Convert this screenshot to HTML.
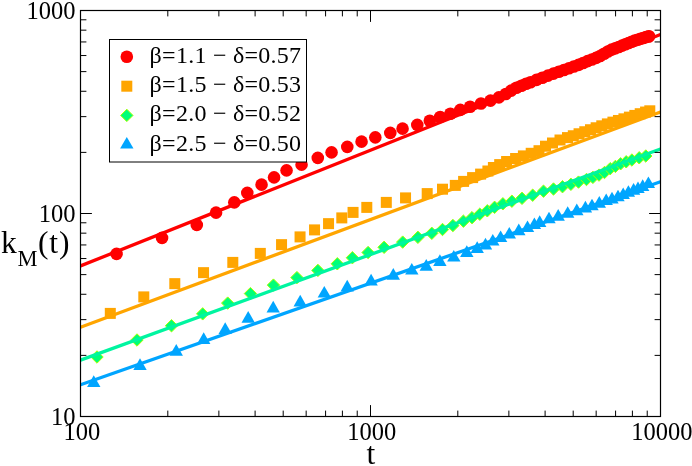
<!DOCTYPE html>
<html><head><meta charset="utf-8"><title>k_M(t)</title>
<style>html,body{margin:0;padding:0;background:#fff}svg{display:block;will-change:transform}text{font-family:"Liberation Serif",serif;fill:#000}</style></head>
<body>
<svg width="692" height="466" viewBox="0 0 692 466">
<rect width="692" height="466" fill="#fff"/>
<clipPath id="c"><rect x="80.5" y="10.5" width="580.0" height="406.0"/></clipPath>
<g clip-path="url(#c)">
<g fill="#ff0000"><circle cx="116.55" cy="253.90" r="6.3"/><circle cx="162.05" cy="237.90" r="6.3"/><circle cx="196.80" cy="224.90" r="6.3"/><circle cx="216.05" cy="212.65" r="6.3"/><circle cx="234.30" cy="202.40" r="6.3"/><circle cx="247.30" cy="192.90" r="6.3"/><circle cx="261.55" cy="184.65" r="6.3"/><circle cx="274.05" cy="177.40" r="6.3"/><circle cx="286.55" cy="170.40" r="6.3"/><circle cx="301.55" cy="164.65" r="6.3"/><circle cx="317.80" cy="157.90" r="6.3"/><circle cx="331.55" cy="152.40" r="6.3"/><circle cx="347.30" cy="146.90" r="6.3"/><circle cx="361.55" cy="141.65" r="6.3"/><circle cx="375.30" cy="137.40" r="6.3"/><circle cx="390.30" cy="132.90" r="6.3"/><circle cx="402.55" cy="128.65" r="6.3"/><circle cx="417.30" cy="124.90" r="6.3"/><circle cx="429.80" cy="120.70" r="6.3"/><circle cx="440.20" cy="117.00" r="6.3"/><circle cx="450.40" cy="113.80" r="6.3"/><circle cx="460.30" cy="109.90" r="6.3"/><circle cx="470.10" cy="106.70" r="6.3"/><circle cx="481.00" cy="103.50" r="6.3"/><circle cx="490.50" cy="100.60" r="6.3"/><circle cx="498.90" cy="97.40" r="6.3"/><circle cx="505.80" cy="94.00" r="6.3"/><circle cx="511.20" cy="90.60" r="6.3"/><circle cx="516.40" cy="87.80" r="6.3"/><circle cx="521.40" cy="85.70" r="6.3"/><circle cx="526.10" cy="83.80" r="6.3"/><circle cx="530.50" cy="82.20" r="6.3"/><circle cx="536.50" cy="79.87" r="6.3"/><circle cx="542.32" cy="77.71" r="6.3"/><circle cx="547.97" cy="75.63" r="6.3"/><circle cx="553.46" cy="73.64" r="6.3"/><circle cx="558.78" cy="71.74" r="6.3"/><circle cx="563.94" cy="70.00" r="6.3"/><circle cx="568.96" cy="68.32" r="6.3"/><circle cx="573.82" cy="66.56" r="6.3"/><circle cx="578.54" cy="64.83" r="6.3"/><circle cx="583.12" cy="62.98" r="6.3"/><circle cx="587.57" cy="61.12" r="6.3"/><circle cx="591.88" cy="59.45" r="6.3"/><circle cx="596.07" cy="57.83" r="6.3"/><circle cx="600.13" cy="55.93" r="6.3"/><circle cx="604.08" cy="53.75" r="6.3"/><circle cx="607.90" cy="51.44" r="6.3"/><circle cx="611.62" cy="49.64" r="6.3"/><circle cx="615.22" cy="48.34" r="6.3"/><circle cx="618.72" cy="46.96" r="6.3"/><circle cx="622.11" cy="45.61" r="6.3"/><circle cx="625.41" cy="44.28" r="6.3"/><circle cx="628.60" cy="42.98" r="6.3"/><circle cx="631.71" cy="41.72" r="6.3"/><circle cx="634.72" cy="40.65" r="6.3"/><circle cx="637.64" cy="39.72" r="6.3"/><circle cx="640.47" cy="38.82" r="6.3"/><circle cx="643.23" cy="37.94" r="6.3"/><circle cx="645.90" cy="37.15" r="6.3"/><circle cx="648.49" cy="36.44" r="6.3"/><circle cx="649.00" cy="36.30" r="6.3"/></g>
<g fill="#ffa500"><rect x="104.80" y="307.90" width="11" height="11"/><rect x="138.30" y="291.40" width="11" height="11"/><rect x="169.30" y="278.15" width="11" height="11"/><rect x="198.05" y="267.15" width="11" height="11"/><rect x="227.30" y="256.90" width="11" height="11"/><rect x="254.80" y="247.90" width="11" height="11"/><rect x="276.05" y="239.15" width="11" height="11"/><rect x="294.55" y="231.40" width="11" height="11"/><rect x="309.05" y="224.40" width="11" height="11"/><rect x="323.05" y="218.15" width="11" height="11"/><rect x="336.30" y="212.40" width="11" height="11"/><rect x="347.55" y="206.90" width="11" height="11"/><rect x="361.30" y="201.90" width="11" height="11"/><rect x="380.80" y="196.90" width="11" height="11"/><rect x="400.05" y="192.40" width="11" height="11"/><rect x="421.70" y="188.10" width="11" height="11"/><rect x="437.00" y="183.70" width="11" height="11"/><rect x="449.80" y="179.90" width="11" height="11"/><rect x="458.10" y="175.90" width="11" height="11"/><rect x="467.10" y="172.10" width="11" height="11"/><rect x="475.10" y="168.60" width="11" height="11"/><rect x="482.40" y="165.50" width="11" height="11"/><rect x="487.90" y="162.00" width="11" height="11"/><rect x="494.20" y="159.10" width="11" height="11"/><rect x="501.10" y="156.00" width="11" height="11"/><rect x="510.10" y="153.00" width="11" height="11"/><rect x="517.90" y="150.40" width="11" height="11"/><rect x="525.70" y="147.80" width="11" height="11"/><rect x="533.50" y="145.20" width="11" height="11"/><rect x="540.00" y="140.70" width="11" height="11"/><rect x="547.00" y="137.50" width="11" height="11"/><rect x="554.50" y="134.50" width="11" height="11"/><rect x="562.00" y="132.10" width="11" height="11"/><rect x="567.80" y="130.25" width="11" height="11"/><rect x="573.56" y="128.26" width="11" height="11"/><rect x="579.29" y="126.24" width="11" height="11"/><rect x="584.99" y="124.23" width="11" height="11"/><rect x="590.65" y="122.27" width="11" height="11"/><rect x="596.28" y="120.33" width="11" height="11"/><rect x="601.87" y="118.40" width="11" height="11"/><rect x="607.43" y="116.64" width="11" height="11"/><rect x="612.95" y="114.98" width="11" height="11"/><rect x="618.44" y="113.33" width="11" height="11"/><rect x="623.90" y="111.64" width="11" height="11"/><rect x="629.32" y="109.92" width="11" height="11"/><rect x="634.71" y="108.20" width="11" height="11"/><rect x="640.07" y="106.54" width="11" height="11"/><rect x="644.30" y="105.30" width="11" height="11"/></g>
<g fill="#00ff78" stroke="#a8ff00" stroke-width="1"><path d="M97.00 350.80l6.2 6.2l-6.2 6.2l-6.2-6.2z"/><path d="M137.00 333.80l6.2 6.2l-6.2 6.2l-6.2-6.2z"/><path d="M171.50 319.55l6.2 6.2l-6.2 6.2l-6.2-6.2z"/><path d="M202.70 307.65l6.2 6.2l-6.2 6.2l-6.2-6.2z"/><path d="M227.70 296.90l6.2 6.2l-6.2 6.2l-6.2-6.2z"/><path d="M250.45 287.40l6.2 6.2l-6.2 6.2l-6.2-6.2z"/><path d="M273.45 278.90l6.2 6.2l-6.2 6.2l-6.2-6.2z"/><path d="M296.95 271.40l6.2 6.2l-6.2 6.2l-6.2-6.2z"/><path d="M317.90 264.20l6.2 6.2l-6.2 6.2l-6.2-6.2z"/><path d="M337.30 257.60l6.2 6.2l-6.2 6.2l-6.2-6.2z"/><path d="M352.40 251.50l6.2 6.2l-6.2 6.2l-6.2-6.2z"/><path d="M368.10 246.30l6.2 6.2l-6.2 6.2l-6.2-6.2z"/><path d="M384.10 241.10l6.2 6.2l-6.2 6.2l-6.2-6.2z"/><path d="M402.70 235.90l6.2 6.2l-6.2 6.2l-6.2-6.2z"/><path d="M417.90 231.10l6.2 6.2l-6.2 6.2l-6.2-6.2z"/><path d="M431.80 227.10l6.2 6.2l-6.2 6.2l-6.2-6.2z"/><path d="M442.50 223.30l6.2 6.2l-6.2 6.2l-6.2-6.2z"/><path d="M452.90 219.30l6.2 6.2l-6.2 6.2l-6.2-6.2z"/><path d="M463.40 215.00l6.2 6.2l-6.2 6.2l-6.2-6.2z"/><path d="M472.00 211.50l6.2 6.2l-6.2 6.2l-6.2-6.2z"/><path d="M479.80 208.00l6.2 6.2l-6.2 6.2l-6.2-6.2z"/><path d="M487.30 204.60l6.2 6.2l-6.2 6.2l-6.2-6.2z"/><path d="M494.60 201.10l6.2 6.2l-6.2 6.2l-6.2-6.2z"/><path d="M502.90 197.60l6.2 6.2l-6.2 6.2l-6.2-6.2z"/><path d="M511.90 195.00l6.2 6.2l-6.2 6.2l-6.2-6.2z"/><path d="M522.00 192.10l6.2 6.2l-6.2 6.2l-6.2-6.2z"/><path d="M532.70 189.00l6.2 6.2l-6.2 6.2l-6.2-6.2z"/><path d="M543.50 185.00l6.2 6.2l-6.2 6.2l-6.2-6.2z"/><path d="M553.50 182.80l6.2 6.2l-6.2 6.2l-6.2-6.2z"/><path d="M562.50 180.50l6.2 6.2l-6.2 6.2l-6.2-6.2z"/><path d="M570.90 178.10l6.2 6.2l-6.2 6.2l-6.2-6.2z"/><path d="M578.50 175.90l6.2 6.2l-6.2 6.2l-6.2-6.2z"/><path d="M586.50 173.30l6.2 6.2l-6.2 6.2l-6.2-6.2z"/><path d="M592.90 171.20l6.2 6.2l-6.2 6.2l-6.2-6.2z"/><path d="M599.00 168.90l6.2 6.2l-6.2 6.2l-6.2-6.2z"/><path d="M604.50 166.30l6.2 6.2l-6.2 6.2l-6.2-6.2z"/><path d="M610.20 162.50l6.2 6.2l-6.2 6.2l-6.2-6.2z"/><path d="M615.40 160.20l6.2 6.2l-6.2 6.2l-6.2-6.2z"/><path d="M620.60 157.60l6.2 6.2l-6.2 6.2l-6.2-6.2z"/><path d="M626.20 155.60l6.2 6.2l-6.2 6.2l-6.2-6.2z"/><path d="M631.90 153.80l6.2 6.2l-6.2 6.2l-6.2-6.2z"/><path d="M639.20 151.60l6.2 6.2l-6.2 6.2l-6.2-6.2z"/><path d="M645.80 149.80l6.2 6.2l-6.2 6.2l-6.2-6.2z"/></g>
<g fill="#00a5ff"><path d="M93.75 375.35l6.7 11.6h-13.4z"/><path d="M140.00 358.35l6.7 11.6h-13.4z"/><path d="M176.25 344.10l6.7 11.6h-13.4z"/><path d="M203.70 332.30l6.7 11.6h-13.4z"/><path d="M225.20 322.30l6.7 11.6h-13.4z"/><path d="M248.20 311.05l6.7 11.6h-13.4z"/><path d="M273.20 300.80l6.7 11.6h-13.4z"/><path d="M300.20 294.80l6.7 11.6h-13.4z"/><path d="M324.30 285.90l6.7 11.6h-13.4z"/><path d="M347.20 279.80l6.7 11.6h-13.4z"/><path d="M371.10 273.80l6.7 11.6h-13.4z"/><path d="M393.30 268.10l6.7 11.6h-13.4z"/><path d="M411.80 262.90l6.7 11.6h-13.4z"/><path d="M426.25 259.10l6.7 11.6h-13.4z"/><path d="M439.90 254.30l6.7 11.6h-13.4z"/><path d="M453.80 250.00l6.7 11.6h-13.4z"/><path d="M466.80 245.30l6.7 11.6h-13.4z"/><path d="M477.20 241.30l6.7 11.6h-13.4z"/><path d="M485.50 237.80l6.7 11.6h-13.4z"/><path d="M492.80 234.00l6.7 11.6h-13.4z"/><path d="M500.60 230.40l6.7 11.6h-13.4z"/><path d="M509.30 226.90l6.7 11.6h-13.4z"/><path d="M518.80 223.60l6.7 11.6h-13.4z"/><path d="M527.50 220.50l6.7 11.6h-13.4z"/><path d="M534.40 217.50l6.7 11.6h-13.4z"/><path d="M539.70 215.30l6.7 11.6h-13.4z"/><path d="M549.00 211.70l6.7 11.6h-13.4z"/><path d="M558.20 209.10l6.7 11.6h-13.4z"/><path d="M567.70 206.20l6.7 11.6h-13.4z"/><path d="M576.80 203.60l6.7 11.6h-13.4z"/><path d="M585.40 200.80l6.7 11.6h-13.4z"/><path d="M592.00 198.70l6.7 11.6h-13.4z"/><path d="M599.30 196.10l6.7 11.6h-13.4z"/><path d="M606.20 193.50l6.7 11.6h-13.4z"/><path d="M612.00 191.80l6.7 11.6h-13.4z"/><path d="M618.00 189.70l6.7 11.6h-13.4z"/><path d="M623.20 187.40l6.7 11.6h-13.4z"/><path d="M628.40 185.20l6.7 11.6h-13.4z"/><path d="M633.60 183.10l6.7 11.6h-13.4z"/><path d="M638.00 181.40l6.7 11.6h-13.4z"/><path d="M642.70 179.30l6.7 11.6h-13.4z"/><path d="M648.40 176.50l6.7 11.6h-13.4z"/></g>
<line x1="80.5" y1="265.9" x2="660.5" y2="34.48" stroke="#ff0000" stroke-width="3.3"/>
<line x1="80.5" y1="327.2" x2="660.5" y2="112.02" stroke="#ffa500" stroke-width="3.3"/>
<line x1="80.5" y1="360.1" x2="660.5" y2="148.98" stroke="#00f5a0" stroke-width="3.3"/>
<line x1="80.5" y1="384.7" x2="660.5" y2="181.70" stroke="#00a5ff" stroke-width="3.3"/>
</g>
<path d="M80.50 416.5v-11.4M80.50 10.5v11.4M167.80 416.5v-5.9M167.80 10.5v5.9M218.87 416.5v-5.9M218.87 10.5v5.9M255.10 416.5v-5.9M255.10 10.5v5.9M283.20 416.5v-5.9M283.20 10.5v5.9M306.16 416.5v-5.9M306.16 10.5v5.9M325.58 416.5v-5.9M325.58 10.5v5.9M342.40 416.5v-5.9M342.40 10.5v5.9M357.23 416.5v-5.9M357.23 10.5v5.9M370.50 416.5v-11.4M370.50 10.5v11.4M457.80 416.5v-5.9M457.80 10.5v5.9M508.87 416.5v-5.9M508.87 10.5v5.9M545.10 416.5v-5.9M545.10 10.5v5.9M573.20 416.5v-5.9M573.20 10.5v5.9M596.16 416.5v-5.9M596.16 10.5v5.9M615.58 416.5v-5.9M615.58 10.5v5.9M632.40 416.5v-5.9M632.40 10.5v5.9M647.23 416.5v-5.9M647.23 10.5v5.9M660.50 416.5v-11.4M660.50 10.5v11.4M80.5 416.50h11.4M660.5 416.50h-11.4M80.5 355.39h5.9M660.5 355.39h-5.9M80.5 319.64h5.9M660.5 319.64h-5.9M80.5 294.28h5.9M660.5 294.28h-5.9M80.5 274.61h5.9M660.5 274.61h-5.9M80.5 258.54h5.9M660.5 258.54h-5.9M80.5 244.95h5.9M660.5 244.95h-5.9M80.5 233.17h5.9M660.5 233.17h-5.9M80.5 222.79h5.9M660.5 222.79h-5.9M80.5 213.50h11.4M660.5 213.50h-11.4M80.5 152.39h5.9M660.5 152.39h-5.9M80.5 116.64h5.9M660.5 116.64h-5.9M80.5 91.28h5.9M660.5 91.28h-5.9M80.5 71.61h5.9M660.5 71.61h-5.9M80.5 55.54h5.9M660.5 55.54h-5.9M80.5 41.95h5.9M660.5 41.95h-5.9M80.5 30.17h5.9M660.5 30.17h-5.9M80.5 19.79h5.9M660.5 19.79h-5.9M80.5 10.50h11.4M660.5 10.50h-11.4" stroke="#000" stroke-width="1" fill="none"/>
<rect x="80.5" y="10.5" width="580.0" height="406.0" fill="none" stroke="#000" stroke-width="1.2"/>
<rect x="109.5" y="39.5" width="197" height="122.5" fill="#fff" stroke="#000" stroke-width="1"/>
<circle cx="126.8" cy="56.8" r="6.3" fill="#ff0000"/>
<rect x="121.3" y="80.7" width="11" height="11" fill="#ffa500"/>
<path d="M126.8 109.2l6.2 6.2l-6.2 6.2l-6.2-6.2z" fill="#00ff78" stroke="#a8ff00" stroke-width="1"/>
<path d="M126.8 136.9l6.7 11.6h-13.4z" fill="#00a5ff"/>
<text x="149.6" y="62.8" font-size="24" textLength="151.5" lengthAdjust="spacing">β=1.1 − δ=0.57</text>
<text x="149.6" y="92.0" font-size="24" textLength="151.5" lengthAdjust="spacing">β=1.5 − δ=0.53</text>
<text x="149.6" y="121.4" font-size="24" textLength="151.5" lengthAdjust="spacing">β=2.0 − δ=0.52</text>
<text x="149.6" y="151.0" font-size="24" textLength="151.5" lengthAdjust="spacing">β=2.5 − δ=0.50</text>
<text x="75.5" y="18.6" font-size="25.6" text-anchor="end" textLength="49.0" lengthAdjust="spacingAndGlyphs">1000</text>
<text x="75.5" y="221.6" font-size="25.6" text-anchor="end" textLength="36.8" lengthAdjust="spacingAndGlyphs">100</text>
<text x="75.5" y="424.6" font-size="25.6" text-anchor="end" textLength="24.5" lengthAdjust="spacingAndGlyphs">10</text>
<text x="81.8" y="439.8" font-size="25.6" text-anchor="middle" textLength="36.8" lengthAdjust="spacingAndGlyphs">100</text>
<text x="371.8" y="439.8" font-size="25.6" text-anchor="middle" textLength="49.0" lengthAdjust="spacingAndGlyphs">1000</text>
<text x="661.8" y="439.8" font-size="25.6" text-anchor="middle" textLength="61.2" lengthAdjust="spacingAndGlyphs">10000</text>
<text x="1" y="253.2" font-size="31.5">k</text>
<text x="17.5" y="265.6" font-size="22.5">M</text>
<text x="38" y="253.2" font-size="31.5" textLength="31.5" lengthAdjust="spacing">(t)</text>
<text x="370.8" y="463.6" font-size="31.5" text-anchor="middle">t</text>
</svg></body></html>
